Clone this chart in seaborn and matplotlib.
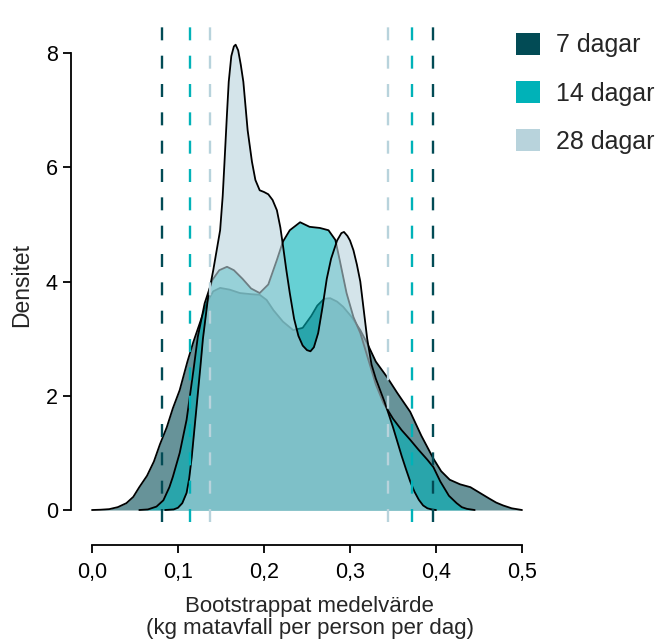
import numpy as np
import pandas as pd
import matplotlib
matplotlib.use("Agg")
import matplotlib.pyplot as plt
import seaborn as sns
from matplotlib.patches import Patch
from matplotlib.ticker import FuncFormatter

series = ["7 dagar", "14 dagar", "28 dagar"]
colors = ["#024b55", "#00b2b8", "#b8d3dc"]

x7 = [0.0, 0.01, 0.02, 0.03, 0.04, 0.048, 0.055, 0.064, 0.072, 0.079, 0.087, 0.094, 0.102,
      0.111, 0.118, 0.126, 0.134, 0.141, 0.149, 0.16, 0.172, 0.185, 0.195, 0.203, 0.211,
      0.222, 0.234, 0.245, 0.255, 0.262, 0.27, 0.277, 0.285, 0.292, 0.302, 0.312, 0.32,
      0.33, 0.343, 0.355, 0.37, 0.383, 0.397, 0.406, 0.416, 0.428, 0.44, 0.451, 0.462,
      0.47, 0.478, 0.488, 0.5]
d7 = [0.0, 0.005, 0.015, 0.05, 0.12, 0.23, 0.4, 0.6, 0.85, 1.15, 1.45, 1.78, 2.1,
      2.6, 2.95, 3.3, 3.65, 3.83, 3.89, 3.86, 3.8, 3.78, 3.77, 3.68, 3.5,
      3.3, 3.15, 3.19, 3.4, 3.58, 3.7, 3.71, 3.65, 3.56, 3.38, 3.15, 2.92,
      2.6, 2.33, 2.05, 1.72, 1.3, 0.9, 0.68, 0.53, 0.45, 0.4, 0.3, 0.2,
      0.13, 0.08, 0.03, 0.0]

x14 = [0.055, 0.065, 0.075, 0.083, 0.09, 0.094, 0.102, 0.11, 0.118, 0.123, 0.131, 0.14,
       0.148, 0.157, 0.165, 0.175, 0.185, 0.195, 0.205, 0.215, 0.222, 0.23, 0.242, 0.253,
       0.265, 0.275, 0.283, 0.288, 0.296, 0.304, 0.312, 0.32, 0.33, 0.339, 0.35, 0.36,
       0.37, 0.38, 0.39, 0.397, 0.405, 0.415, 0.424, 0.43, 0.436, 0.445]
d14 = [0.0, 0.01, 0.06, 0.17, 0.4, 0.58, 1.0, 1.58, 2.45, 3.03, 3.62, 4.03,
       4.2, 4.26, 4.2, 4.05, 3.88, 3.8, 3.95, 4.38, 4.7, 4.9, 5.04, 4.96,
       4.94, 4.9, 4.73, 4.38, 3.8, 3.38, 3.1, 2.7, 2.2, 1.87, 1.6, 1.4,
       1.23, 1.05, 0.88, 0.75, 0.5, 0.25, 0.12, 0.05, 0.02, 0.0]

x28 = [0.085, 0.095, 0.1, 0.105, 0.11, 0.113, 0.116, 0.119, 0.122, 0.126, 0.129, 0.135,
       0.141, 0.145, 0.149, 0.152, 0.154, 0.157, 0.159, 0.162, 0.165, 0.167, 0.17, 0.173,
       0.176, 0.181, 0.186, 0.19, 0.195, 0.2, 0.205, 0.21, 0.215, 0.219, 0.222, 0.226,
       0.23, 0.235, 0.24, 0.245, 0.25, 0.254, 0.258, 0.263, 0.268, 0.273, 0.278, 0.285,
       0.29, 0.293, 0.297, 0.3, 0.304, 0.308, 0.312, 0.316, 0.32, 0.325, 0.33, 0.335,
       0.34, 0.345, 0.35, 0.355, 0.36, 0.365, 0.37, 0.375, 0.38, 0.385, 0.39, 0.395, 0.4]
d28 = [0.0, 0.01, 0.04, 0.12, 0.3, 0.55, 0.93, 1.4, 1.87, 2.5, 3.0, 3.73,
       4.2, 4.55, 4.9, 5.5, 6.07, 6.95, 7.5, 7.95, 8.12, 8.15, 8.05, 7.8,
       7.5, 6.65, 6.1, 5.78, 5.6, 5.57, 5.53, 5.43, 5.25, 4.95, 4.64, 4.2,
       3.8, 3.35, 3.05, 2.88, 2.8, 2.78, 2.85, 3.1, 3.55, 4.05, 4.4, 4.72,
       4.85, 4.87, 4.8, 4.72, 4.55, 4.3, 4.0, 3.5, 3.0, 2.55, 2.3, 2.1,
       1.9, 1.68, 1.45, 1.2, 0.95, 0.72, 0.5, 0.32, 0.18, 0.08, 0.03, 0.01, 0.0]

ci_low = [0.0814, 0.114, 0.1375]
ci_high = [0.396, 0.372, 0.344]

xticks = [0.0, 0.1, 0.2, 0.3, 0.4, 0.5]
yticks = [0, 2, 4, 6, 8]

sns.set_theme(style="ticks")
plt.rcParams['font.family'] = ['Liberation Sans', 'DejaVu Sans']

W, H = 657, 642
fig = plt.figure(figsize=(W / 100, H / 100), dpi=100)
ax = fig.add_axes([71 / W, 1 - 522 / H, (543.5 - 71) / W, (522 - 15) / H])

curves = [(x7, d7), (x14, d14), (x28, d28)]
for (xs, ds), c, name in zip(curves, colors, series):
    ax.fill_between(xs, 0, ds, color=c, alpha=0.6, linewidth=0, zorder=2)
    sns.lineplot(x=xs, y=ds, color="black", linewidth=1.3, ax=ax,
                 sort=False, estimator=None, zorder=2)

for lo, hi, c in zip(ci_low, ci_high, colors):
    for v in (lo, hi):
        ax.axvline(v, color=c, linewidth=1.7, dashes=(5.5, 6.5), zorder=5)

ax.set_xlim(-0.0244, 0.525)
ax.set_ylim(-0.21, 8.67)
ax.set_xticks(xticks)
ax.set_yticks(yticks)
ax.xaxis.set_major_formatter(FuncFormatter(lambda v, p: f"{v:.1f}".replace(".", ",")))
ax.tick_params(axis="both", labelsize=15.5, width=1.3, length=6, colors="black")
ax.tick_params(axis="x", pad=6)

for s in ("top", "right"):
    ax.spines[s].set_visible(False)
ax.spines["bottom"].set_position(("outward", 16.5))
ax.spines["bottom"].set_bounds(0, 0.5)
ax.spines["left"].set_bounds(0, 8)
for s in ("bottom", "left"):
    ax.spines[s].set_linewidth(1.3)
    ax.spines[s].set_color("black")

ax.set_ylabel("Densitet", fontsize=16.5)
ax.yaxis.set_label_coords((33 - 71) / 472.5, (522 - 285) / 507)
ax.set_xlabel("Bootstrappat medelvärde\n(kg matavfall per person per dag)",
              fontsize=16, linespacing=1.05)
ax.xaxis.set_label_coords((309.5 - 71) / 472.5, (522 - 596) / 507)

handles = [Patch(facecolor=c, edgecolor="none") for c in colors]
fig.legend(handles, series, loc="upper left", bbox_to_anchor=(516 / W, 1 - 33 / H),
           frameon=False, fontsize=18, handlelength=0.95, handleheight=0.95,
           handletextpad=0.65, labelspacing=0.95, borderpad=0, borderaxespad=0)

fig.savefig("out.png", dpi=100)
